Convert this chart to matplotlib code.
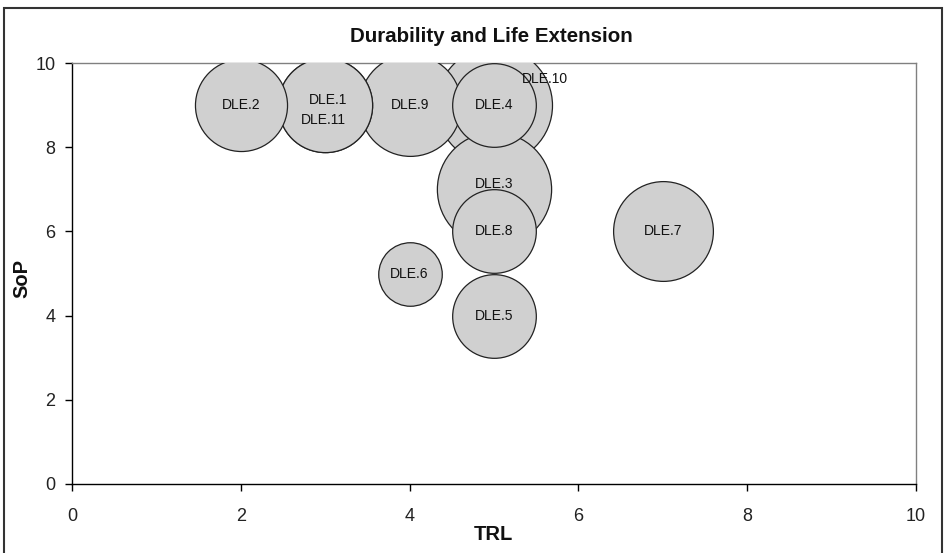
import matplotlib
matplotlib.use("Agg")
import matplotlib.pyplot as plt
from matplotlib.patches import Rectangle

plt.rcParams['font.family'] = ['Liberation Sans', 'DejaVu Sans']

labels = ["DLE.1", "DLE.2", "DLE.3", "DLE.4", "DLE.5", "DLE.6",
          "DLE.7", "DLE.8", "DLE.9", "DLE.10", "DLE.11"]
trl = [3, 2, 5, 5, 5, 4, 7, 5, 4, 5, 3]
sop = [9, 9, 7, 9, 4, 5, 6, 6, 9, 9, 9]
bubble_size = [0.66, 0.63, 0.97, 0.52, 0.52, 0.30, 0.74, 0.52, 0.77, 1.0, 0.66]

x_ticks = [0, 2, 4, 6, 8, 10]
y_ticks = [0, 2, 4, 6, 8, 10]

# label offsets in points (dx, dy)
label_offsets = {"DLE.1": (2, 4), "DLE.11": (-1, -11), "DLE.10": (37, 19), "DLE.3": (0, 4)}

W, H = 946, 553
fig = plt.figure(figsize=(W / 100, H / 100), dpi=100)
ax = fig.add_axes([72 / W, 1 - 484 / H, 844 / W, 421 / H])

max_r_pt = 58 * 0.72  # radius of the largest bubble in points
order = sorted(range(len(labels)), key=lambda i: -bubble_size[i])
for i in order:
    r = max_r_pt * bubble_size[i] ** 0.5
    ax.scatter(trl[i], sop[i], s=(2 * r) ** 2, color="#d0d0d0",
               edgecolors="#222222", linewidths=0.9, zorder=3, clip_on=True)

for i, lab in enumerate(labels):
    dx, dy = label_offsets.get(lab, (0, 0))
    ax.annotate(lab, (trl[i], sop[i]), xytext=(dx, dy), textcoords="offset points",
                ha="center", va="center", fontsize=10, color="#111111", zorder=5)

ax.set_xlim(0, 10)
ax.set_ylim(0, 10)
ax.set_xticks(x_ticks)
ax.set_yticks(y_ticks)
ax.tick_params(axis="both", labelsize=13, direction="out", length=5, width=1,
               color="black", labelcolor="#222222")
ax.tick_params(axis="x", pad=12)
ax.tick_params(axis="y", pad=7)
for side in ["top", "right"]:
    ax.spines[side].set_color("#808080")
    ax.spines[side].set_linewidth(1)
for side in ["left", "bottom"]:
    ax.spines[side].set_color("black")
    ax.spines[side].set_linewidth(1)

fig.text(491 / W, 1 - 36 / H, "Durability and Life Extension", fontsize=14.8,
         fontweight="bold", ha="center", va="center", color="#111111")
fig.text(493 / W, 1 - 534 / H, "TRL", fontsize=14.5, fontweight="bold",
         ha="center", va="center", color="#111111")
fig.text(22 / W, 1 - 278 / H, "SoP", fontsize=14.5, fontweight="bold",
         ha="center", va="center", rotation=90, color="#111111")

fig.patches.append(Rectangle((4 / W, -0.05), 938 / W, 1.05 - 8 / H, transform=fig.transFigure,
                             fill=False, edgecolor="#333333", linewidth=1.5))

fig.savefig("out.png", dpi=100)
